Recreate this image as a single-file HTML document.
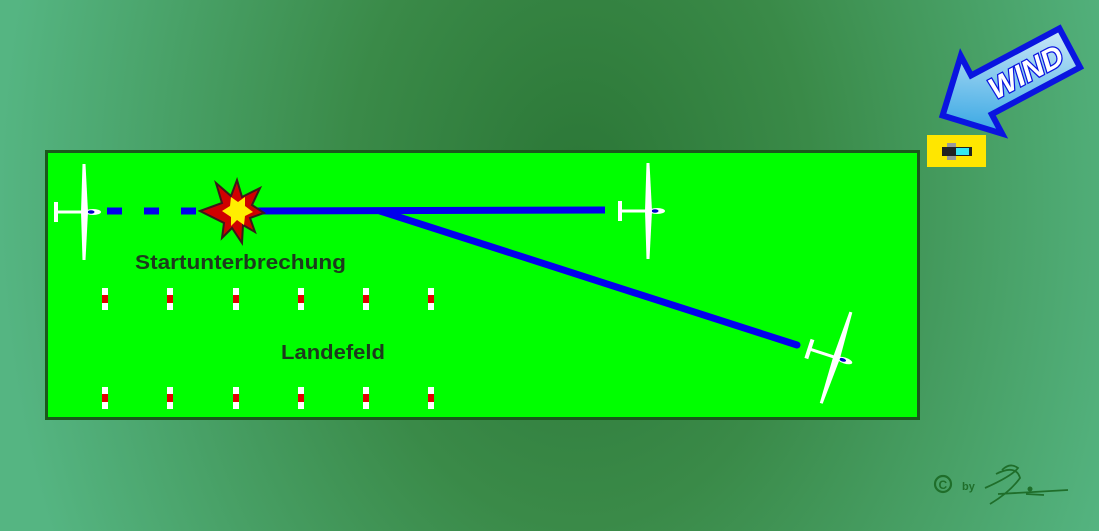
<!DOCTYPE html>
<html><head><meta charset="utf-8"><style>
html,body{margin:0;padding:0;width:1099px;height:531px;overflow:hidden}
svg{display:block}
text{font-family:"Liberation Sans",sans-serif;font-weight:bold}
</style></head><body>
<svg width="1099" height="531" viewBox="0 0 1099 531" xmlns="http://www.w3.org/2000/svg">
<defs>
<radialGradient id="bg" cx="580" cy="200" r="580" gradientUnits="userSpaceOnUse" gradientTransform="translate(580 200) scale(1 1.4) translate(-580 -200)">
<stop offset="0" stop-color="#2b7636"/><stop offset="0.4" stop-color="#3a8a48"/><stop offset="1" stop-color="#55b582"/>
</radialGradient>
<linearGradient id="wg" x1="0" y1="1" x2="1" y2="0">
<stop offset="0" stop-color="#1a9ae0"/><stop offset="1" stop-color="#e6f4fb"/>
</linearGradient>
<g id="gl">
<rect x="-28" y="-1.5" width="40" height="3" fill="#fff"/>
<ellipse cx="8" cy="0" rx="8" ry="3" fill="#fff"/>
<ellipse cx="6" cy="0" rx="3.5" ry="1.7" fill="#0000cc"/>
<path d="M-31,-10 L-27,-10 L-27,10 L-31,10 Z" fill="#fff"/>
<path d="M-2.5,-48 L0.5,-48 L3,0 L0.5,48 L-2.5,48 L-4,0 Z" fill="#fff"/>
</g>
</defs>
<rect width="1099" height="531" fill="url(#bg)"/>
<rect x="46.5" y="151.5" width="872" height="267" fill="#00ff00" stroke="#1a5a1a" stroke-width="3"/>
<g>
<g id="mk"><rect x="102" y="288" width="6" height="22" fill="#fff"/><rect x="102" y="295" width="6" height="8" fill="#e00000"/></g>
<use href="#mk" x="65"/><use href="#mk" x="131"/><use href="#mk" x="196"/><use href="#mk" x="261"/><use href="#mk" x="326"/>
<use href="#mk" y="99"/><use href="#mk" x="65" y="99"/><use href="#mk" x="131" y="99"/><use href="#mk" x="196" y="99"/><use href="#mk" x="261" y="99"/><use href="#mk" x="326" y="99"/>
</g>
<line x1="107" y1="211" x2="200" y2="211" stroke="#0000ee" stroke-width="7" stroke-dasharray="15,22"/>
<line x1="240" y1="211" x2="605" y2="210" stroke="#0000ee" stroke-width="7"/>
<line x1="380" y1="211" x2="797" y2="345" stroke="#0000ee" stroke-width="7" stroke-linecap="round"/>
<path d="M200,211 L222,203 L216,183 L231,196 L237,180 L242,197 L260,188 L252,205 L264,213 L250,218 L255,232 L243,225 L242,243 L232,228 L222,238 L224,223 Z" fill="#d00000" stroke="#3a1a1a" stroke-width="2"/>
<path d="M222,211 L230,206 L231,197 L238,202 L245,197 L245,206 L253,212 L245,216 L244,225 L237,220 L231,226 L231,217 Z" fill="#ffee00"/>
<use href="#gl" x="85" y="212"/>
<use href="#gl" x="649" y="211"/>
<use href="#gl" transform="translate(837 358) rotate(18)"/>
<text x="135" y="269" font-size="20" fill="#1d3a1d" textLength="211" lengthAdjust="spacingAndGlyphs">Startunterbrechung</text>
<text x="281" y="359" font-size="20" fill="#1d3a1d" textLength="104" lengthAdjust="spacingAndGlyphs">Landefeld</text>
<g transform="translate(1015 77) rotate(-28)">
<path d="M-82,0 L-38,-44 L-38,-22 L62,-22 L62,22 L-38,22 L-38,44 Z" fill="url(#wg)" stroke="#0a14e0" stroke-width="6" stroke-linejoin="miter"/>
<text x="12" y="11" font-size="30" fill="#fff" stroke="#0a14e0" stroke-width="2.5" paint-order="stroke" text-anchor="middle" font-style="italic">WIND</text>
</g>
<rect x="927" y="135" width="59" height="32" fill="#ffe600"/>
<rect x="947" y="143" width="9" height="17" fill="#999"/>
<rect x="942" y="147" width="30" height="9" fill="#222"/>
<rect x="956" y="148" width="13" height="7" fill="#33e8f0"/>
<circle cx="943" cy="484" r="8" fill="none" stroke="#1f6e2a" stroke-width="2.2"/>
<text x="938.5" y="489" font-size="12" fill="#1f6e2a">C</text>
<text x="962" y="490" font-size="11" fill="#1f6e2a">by</text>
<path d="M985,488 Q1012,476 1018,468 Q1010,462 1002,470 M996,474 Q1016,464 1020,478 Q1010,492 990,504 M998,494 L1068,490 M1026,494 L1044,495" fill="none" stroke="#1f6e2a" stroke-width="1.8"/>
<circle cx="1030" cy="489" r="2.5" fill="#1f6e2a"/>
</svg>
</body></html>
